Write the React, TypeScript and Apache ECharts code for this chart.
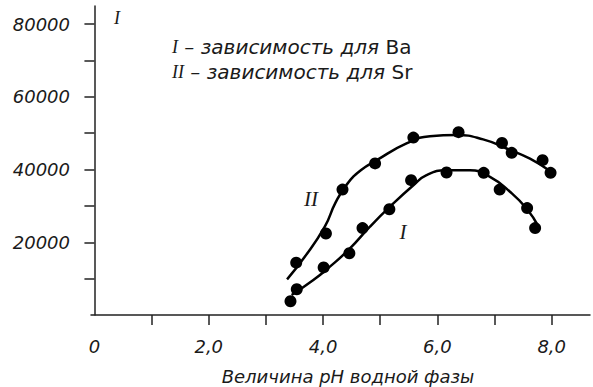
import React, { useEffect, useRef } from "react";
import * as echarts from "echarts";

// Measured points, curve I (Ba)
const baX = [3.43, 3.54, 4.01, 4.46, 4.69, 5.16, 5.54, 6.16, 6.81, 7.09, 7.57, 7.71];
const baY = [3800, 7100, 13100, 17000, 23900, 29100, 37100, 39200, 39100, 34500, 29400, 23900];
// Measured points, curve II (Sr)
const srX = [3.53, 4.05, 4.34, 4.91, 5.58, 6.37, 7.13, 7.3, 7.84, 7.98];
const srY = [14400, 22400, 34500, 41700, 48800, 50300, 47300, 44600, 42600, 39100];
// Fitted curves
const fitBaX = [3.45, 3.83, 4.12, 4.47, 4.82, 5.17, 5.58, 5.81, 6.16, 6.57, 6.92, 7.27, 7.56, 7.77];
const fitBaY = [5500, 9600, 13300, 18300, 24300, 29800, 35700, 38500, 39800, 39800, 38000, 33900, 29300, 24300];
const fitSrX = [3.37, 3.68, 4.03, 4.22, 4.42, 4.66, 4.94, 5.46, 5.87, 6.34, 6.8, 7.21, 7.62, 7.97];
const fitSrY = [9800, 16000, 24300, 31000, 36000, 39800, 42600, 47200, 49200, 49500, 48300, 45800, 43000, 39600];

const xLabelValues = [0, 2, 4, 6, 8];
const xTickValues = [1, 2, 3, 4, 5, 6, 7, 8];
const yLabelValues = [20000, 40000, 60000, 80000];
const yTickValues = [10000, 20000, 30000, 40000, 50000, 60000, 70000, 80000];

const zip = (xs: number[], ys: number[]) => xs.map((x, i) => [x, ys[i]]);

const SANS = "'DejaVu Sans', sans-serif";
const SERIF = "'Liberation Serif', 'Times New Roman', serif";
const TXT = "#1a1a1a";
const FS = 18;
const LFS = 20;

export default function App() {
  const ref = useRef<HTMLDivElement>(null);
  useEffect(() => {
    if (!ref.current) return;
    const chart = echarts.init(ref.current, undefined, { renderer: "svg" });
    chart.setOption({
      animation: false,
      backgroundColor: "#ffffff",
      grid: { left: 91, right: 3, top: 6, bottom: 72, containLabel: false },
      xAxis: {
        type: "value",
        min: -0.06,
        max: 8.67,
        splitLine: { show: false },
        axisLine: { show: true, lineStyle: { color: "#222", width: 1.5 } },
        axisTick: {
          show: true,
          inside: false,
          length: 10,
          customValues: xTickValues,
          lineStyle: { color: "#222", width: 1.5 },
        },
        axisLabel: {
          customValues: xLabelValues,
          margin: 22,
          color: TXT,
          fontFamily: SANS,
          fontStyle: "italic",
          fontSize: FS,
          formatter: (v: number) => (v === 0 ? "0" : v.toFixed(1).replace(".", ",")),
        },
      },
      yAxis: {
        type: "value",
        min: 0,
        max: 85000,
        splitLine: { show: false },
        axisLine: { show: true, lineStyle: { color: "#222", width: 1.5 } },
        axisTick: {
          show: true,
          inside: false,
          length: 10,
          customValues: yTickValues,
          lineStyle: { color: "#222", width: 1.5 },
        },
        axisLabel: {
          customValues: yLabelValues,
          margin: 21,
          color: TXT,
          fontFamily: SANS,
          fontStyle: "italic",
          fontSize: FS,
          formatter: (v: number) => String(v),
        },
      },
      series: [
        {
          type: "line",
          data: zip(fitBaX, fitBaY),
          smooth: 0.5,
          smoothConstraint: false,
          showSymbol: false,
          lineStyle: { color: "#000", width: 2.5 },
          z: 2,
        },
        {
          type: "line",
          data: zip(fitSrX, fitSrY),
          smooth: 0.5,
          smoothConstraint: false,
          showSymbol: false,
          lineStyle: { color: "#000", width: 2.5 },
          z: 2,
        },
        {
          type: "scatter",
          data: zip(baX, baY),
          symbol: "circle",
          symbolSize: 12,
          itemStyle: { color: "#000", opacity: 1 },
          z: 3,
        },
        {
          type: "scatter",
          data: zip(srX, srY),
          symbol: "circle",
          symbolSize: 12,
          itemStyle: { color: "#000", opacity: 1 },
          z: 3,
        },
      ],
      graphic: [
        {
          type: "text",
          x: 117,
          y: 18,
          style: {
            text: "I",
            fontFamily: SERIF,
            fontStyle: "italic",
            fontSize: 18,
            fill: TXT,
            textAlign: "center",
            textVerticalAlign: "middle",
          },
        },
        {
          type: "text",
          x: 172,
          y: 47,
          style: {
            text: "{s|I}{t| – зависимость для }{u|Ba}",
            fill: TXT,
            textVerticalAlign: "middle",
            rich: {
              s: { fontFamily: SERIF, fontStyle: "italic", fontSize: 18, fill: TXT },
              t: { fontFamily: SANS, fontStyle: "italic", fontSize: LFS, fill: TXT },
              u: { fontFamily: SANS, fontStyle: "normal", fontSize: LFS, fill: TXT },
            },
          },
        },
        {
          type: "text",
          x: 172,
          y: 72,
          style: {
            text: "{s|II}{t| – зависимость для }{u|Sr}",
            fill: TXT,
            textVerticalAlign: "middle",
            rich: {
              s: { fontFamily: SERIF, fontStyle: "italic", fontSize: 18, fill: TXT },
              t: { fontFamily: SANS, fontStyle: "italic", fontSize: LFS, fill: TXT },
              u: { fontFamily: SANS, fontStyle: "normal", fontSize: LFS, fill: TXT },
            },
          },
        },
        {
          type: "text",
          x: 311,
          y: 199,
          style: {
            text: "II",
            fontFamily: SERIF,
            fontStyle: "italic",
            fontSize: 21,
            fill: TXT,
            textAlign: "center",
            textVerticalAlign: "middle",
          },
        },
        {
          type: "text",
          x: 403,
          y: 232,
          style: {
            text: "I",
            fontFamily: SERIF,
            fontStyle: "italic",
            fontSize: 21,
            fill: TXT,
            textAlign: "center",
            textVerticalAlign: "middle",
          },
        },
        {
          type: "text",
          x: 348,
          y: 376,
          style: {
            text: "Величина pH водной фазы",
            fontFamily: SANS,
            fontStyle: "italic",
            fontSize: FS,
            fill: TXT,
            textAlign: "center",
            textVerticalAlign: "middle",
          },
        },
      ],
    });
    return () => chart.dispose();
  }, []);
  return <div ref={ref} style={{ width: 593, height: 387, position: "absolute", left: 0, top: 0 }} />;
}
